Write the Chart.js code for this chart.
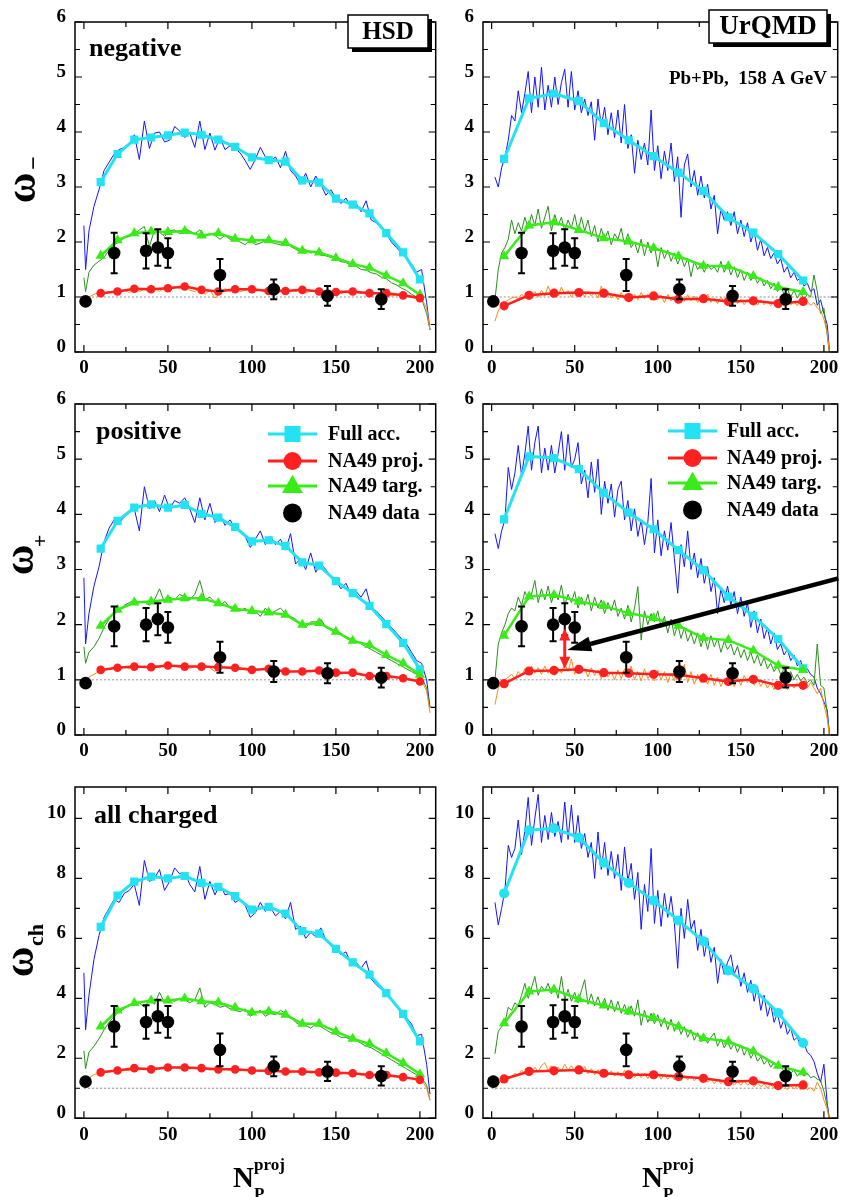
<!DOCTYPE html>
<html>
<head>
<meta charset="utf-8">
<script src="https://cdn.jsdelivr.net/npm/chart.js@4/dist/chart.umd.min.js"></script>
<style>
  html, body { margin: 0; padding: 0; background: #fff; }
  #page { position: relative; width: 844px; height: 1197px; overflow: hidden; background: #fff; }
  #page canvas { position: absolute; }
</style>
</head>
<body>
<div id="page"></div>
<script>
// ---- x grids (N_P^proj) ----
const hsdGrid = [0,1,3,6,9,12,15,18,21,24,27,30,33,36,39,42,45,48,51,54,57,60,63,66,69,72,75,78,81,84,
  87,90,93,96,99,102,105,108,111,114,117,120,123,126,129,132,135,138,141,144,147,150,153,156,159,162,165,168,171,174,
  177,180,183,186,189,192,195,198,201,204,206];
const urqGrid = [2,4,6,8,10,12,14,16,18,20, 22,24,26,28,30,32,34,36,38,40, 42,44,46,48,50,52,54,56,58,60,
  62,64,66,68,70,72,74,76,78,80, 82,84,86,88,90,92,94,96,98,100, 102,104,106,108,110,112,114,116,118,120,
  122,124,126,128,130,132,134,136,138,140, 142,144,146,148,150,152,154,156,158,160, 162,164,166,168,170,172,174,176,178,180,
  182,184,186,188,190,192,194,196,198,200, 202,204];
const hsdBins = [10,20,30,40,50,60,70,80,90,100,110,120,130,140,150,160,170,180,190,200];
const urqBins = [7.5,22.5,37.5,52.5,67.5,82.5,97.5,112.5,127.5,142.5,157.5,172.5,187.5];

const npTicks = [0,50,100,150,200];
const npMinor = [25,75,125,175];
const omegaTicks = [0,1,2,3,4,5,6];
const omegaMinor = [0.5,1.5,2.5,3.5,4.5,5.5];
const omegaChTicks = [0,2,4,6,8,10];
const omegaChMinor = [1,3,5,7,9];

// ---- NA49 data ----
const na49Np = [1,18,37,44,50,81,113,145,177];
const na49NegY = [0.92,1.80,1.84,1.90,1.80,1.40,1.14,1.02,0.96];
const na49NegErr = [0.05,0.37,0.32,0.33,0.27,0.29,0.18,0.18,0.18];
const na49PosY = [0.94,1.97,2.00,2.10,1.95,1.41,1.15,1.12,1.04];
const na49PosErr = [0.05,0.36,0.30,0.29,0.28,0.28,0.19,0.18,0.18];
const na49ChY = [1.22,3.06,3.21,3.40,3.21,2.28,1.73,1.56,1.41];
const na49ChErr = [0.1,0.68,0.56,0.55,0.53,0.55,0.33,0.32,0.32];

// ---- HSD negative ----
const hsdNegFullRaw = [2.30,1.50,2.20,2.65,2.95,3.30,3.45,3.60,3.68,3.72,
  3.78,3.95,3.50,4.20,3.70,3.98,4.00,3.82,3.85,4.10,
  4.02,3.90,3.98,3.72,4.20,3.68,3.98,3.67,3.90,3.68,
  3.75,3.70,3.62,3.48,3.32,3.50,3.72,3.55,3.45,3.55,
  3.35,3.65,3.30,3.20,3.05,3.25,3.00,3.20,3.05,2.85,
  2.95,2.80,2.70,2.80,2.62,2.70,2.55,2.75,2.40,2.35,
  2.25,2.15,2.00,1.90,1.80,1.70,1.60,1.45,1.50,0.90,0.40];
const hsdNegTargRaw = [1.35,1.10,1.45,1.58,1.65,1.72,1.85,1.95,2.00,2.08,
  2.10,2.14,2.22,2.28,1.92,2.22,2.18,2.10,2.20,2.22,
  2.15,2.25,2.20,2.15,2.22,2.10,2.15,2.12,2.05,2.12,
  2.05,2.05,2.00,1.95,2.05,1.95,1.98,2.02,2.00,1.97,
  1.95,2.05,1.92,1.87,1.82,1.86,1.80,1.82,1.76,1.75,
  1.72,1.70,1.64,1.63,1.57,1.56,1.50,1.49,1.44,1.42,
  1.36,1.33,1.26,1.22,1.16,1.12,1.05,1.00,0.97,0.70,0.40];
const hsdNegProjRaw = [0.95,0.90,1.00,1.05,1.08,1.06,1.10,1.08,1.10,1.12,
  1.08,1.15,1.10,1.14,1.08,1.16,1.10,1.18,1.12,1.20,
  1.15,1.22,1.12,1.10,1.15,1.05,1.12,0.98,1.10,1.15,
  1.10,1.16,1.10,1.12,1.15,1.10,1.14,1.08,1.12,1.10,
  1.13,1.08,1.12,1.10,1.14,1.08,1.10,1.12,1.06,1.10,
  1.08,1.10,1.06,1.09,1.05,1.08,1.06,1.10,1.04,1.07,
  1.03,1.06,1.02,1.04,1.00,1.02,0.99,0.98,0.97,0.80,0.40];
const hsdNegFull = [3.09,3.60,3.86,3.90,3.94,3.99,3.95,3.86,3.73,3.54,3.49,3.46,3.12,3.08,2.79,2.68,2.52,2.16,1.81,1.32];
const hsdNegTarg = [1.75,2.03,2.16,2.19,2.18,2.20,2.12,2.16,2.06,2.03,2.03,1.98,1.84,1.81,1.71,1.60,1.53,1.39,1.25,1.04];
const hsdNegProj = [1.07,1.10,1.15,1.14,1.16,1.19,1.13,1.10,1.14,1.14,1.11,1.11,1.13,1.10,1.09,1.10,1.07,1.07,1.03,0.98];

// ---- HSD positive ----
const hsdPosFullRaw = [2.85,1.65,2.20,2.70,3.05,3.50,3.75,3.90,3.85,3.95,
  4.05,4.10,3.70,4.50,4.10,4.25,4.05,4.35,4.10,4.25,
  4.20,4.30,4.10,3.85,4.30,3.90,4.20,3.85,4.00,3.80,
  3.90,3.75,3.70,3.60,3.40,3.55,3.70,3.45,3.60,3.45,
  3.55,3.35,3.65,3.10,3.20,3.00,3.30,2.95,3.10,3.00,
  2.85,2.80,2.65,2.75,2.55,2.60,2.50,2.65,2.30,2.25,
  2.15,2.05,1.95,1.85,1.75,1.65,1.50,1.35,1.30,1.00,0.50];
const hsdPosTargRaw = [1.60,1.30,1.50,1.60,1.75,1.95,2.10,2.20,2.25,2.35,
  2.40,2.45,2.40,2.42,2.35,2.45,2.65,2.40,2.50,2.45,
  2.55,2.50,2.45,2.55,2.80,2.45,2.50,2.40,2.35,2.42,
  2.30,2.32,2.25,2.30,2.20,2.25,2.15,2.30,2.20,2.25,
  2.30,2.20,2.15,2.10,2.00,1.95,2.05,2.05,2.10,1.95,
  1.90,1.85,1.85,1.75,1.72,1.70,1.65,1.60,1.55,1.50,
  1.45,1.40,1.35,1.30,1.25,1.20,1.15,1.10,1.05,0.85,0.50];
const hsdPosProjRaw = [0.97,0.95,1.05,1.10,1.15,1.18,1.20,1.22,1.20,1.24,
  1.20,1.26,1.22,1.25,1.20,1.27,1.22,1.28,1.24,1.26,
  1.22,1.28,1.20,1.25,1.18,1.26,1.22,1.15,1.25,1.22,
  1.20,1.24,1.18,1.22,1.16,1.20,1.18,1.22,1.16,1.19,
  1.15,1.18,1.14,1.17,1.13,1.16,1.14,1.17,1.12,1.15,
  1.12,1.14,1.10,1.13,1.09,1.12,1.08,1.10,1.06,1.08,
  1.05,1.07,1.03,1.05,1.02,1.03,1.00,1.00,0.98,0.80,0.40];
const hsdPosFull = [3.38,3.88,4.12,4.18,4.12,4.17,4.01,3.94,3.77,3.51,3.53,3.43,3.13,3.07,2.79,2.57,2.34,2.01,1.67,1.19];
const hsdPosTarg = [1.98,2.27,2.40,2.42,2.45,2.48,2.48,2.39,2.29,2.25,2.22,2.18,2.00,2.03,1.87,1.71,1.63,1.45,1.30,1.09];
const hsdPosProj = [1.18,1.22,1.24,1.23,1.26,1.24,1.24,1.23,1.22,1.18,1.20,1.15,1.15,1.17,1.13,1.13,1.07,1.07,1.03,0.97];

// ---- HSD all charged ----
const hsdChFullRaw = [4.85,2.95,4.10,5.30,6.10,6.70,7.00,7.30,7.20,7.50,
  7.60,7.80,7.10,8.60,7.90,8.00,8.30,7.60,7.90,8.35,
  8.15,8.20,7.80,7.55,8.40,7.30,7.90,7.45,7.80,7.45,
  7.50,7.20,7.30,7.10,6.70,6.85,7.20,6.90,7.05,6.75,
  6.90,6.65,7.20,6.30,6.40,6.00,6.20,6.05,6.35,5.95,
  5.75,5.70,5.45,5.55,5.15,5.20,5.00,5.25,4.65,4.45,
  4.30,4.10,3.95,3.75,3.55,3.35,3.15,2.75,2.80,1.80,0.80];
const hsdChTargRaw = [2.25,1.65,2.20,2.40,2.65,2.95,3.20,3.40,3.55,3.65,
  3.80,3.75,3.85,3.70,3.95,3.80,4.20,3.85,3.95,3.90,
  4.00,3.95,3.85,3.95,4.35,3.70,3.85,3.80,3.70,3.75,
  3.65,3.60,3.55,3.65,3.40,3.50,3.60,3.40,3.50,3.45,
  3.60,3.50,3.40,3.20,3.10,3.10,3.00,3.15,3.05,2.95,
  2.85,2.80,2.70,2.70,2.60,2.60,2.50,2.40,2.35,2.25,
  2.15,2.05,1.95,1.85,1.75,1.65,1.55,1.45,1.35,1.10,0.60];
const hsdChProjRaw = [1.20,1.15,1.35,1.45,1.50,1.52,1.55,1.58,1.56,1.60,
  1.58,1.65,1.60,1.68,1.62,1.70,1.64,1.72,1.66,1.70,
  1.65,1.72,1.64,1.68,1.62,1.66,1.60,1.64,1.60,1.65,
  1.58,1.62,1.58,1.62,1.56,1.60,1.56,1.60,1.55,1.58,
  1.54,1.58,1.52,1.56,1.52,1.55,1.50,1.54,1.50,1.52,
  1.49,1.52,1.47,1.50,1.45,1.48,1.44,1.46,1.42,1.44,
  1.40,1.42,1.38,1.38,1.35,1.34,1.32,1.30,1.28,1.00,0.60];
const hsdChFull = [6.38,7.43,7.89,8.06,8.00,8.08,7.85,7.72,7.41,6.96,7.05,6.83,6.24,6.16,5.65,5.20,4.79,4.17,3.48,2.56];
const hsdChTarg = [3.06,3.59,3.84,3.93,3.93,3.99,3.90,3.86,3.69,3.53,3.56,3.45,3.15,3.15,2.89,2.65,2.48,2.17,1.84,1.47];
const hsdChProj = [1.53,1.59,1.67,1.63,1.69,1.69,1.67,1.63,1.63,1.59,1.58,1.56,1.56,1.53,1.52,1.50,1.44,1.44,1.37,1.28];

// ---- UrQMD negative ----
const urqNegFullRaw = [3.18,3.00,3.35,3.55,3.85,4.30,4.20,4.75,4.35,4.70,
  5.10,4.35,5.00,4.45,5.18,4.40,4.85,4.45,5.00,4.50,
  4.90,5.14,4.45,5.10,4.40,4.75,4.35,4.60,4.30,4.55,
  3.85,4.60,4.10,4.45,3.95,4.35,3.90,4.40,3.80,4.50,
  3.70,3.95,3.25,3.85,3.50,3.80,3.40,4.40,3.30,3.75,
  3.15,3.65,3.30,3.80,3.10,3.55,2.45,3.40,3.60,3.00,
  3.30,2.85,3.20,2.80,3.05,2.60,2.85,2.15,2.60,2.40,
  2.55,2.30,2.55,2.15,2.40,2.10,2.35,2.00,2.20,1.85,
  2.05,1.75,1.90,1.70,1.80,1.60,1.70,1.45,1.55,1.35,
  1.45,1.30,1.35,1.20,1.25,1.10,1.15,0.85,0.95,0.70,
  0.50,-0.20];
const urqNegTargRaw = [0.95,1.50,1.80,1.90,2.05,2.40,2.15,2.35,2.20,2.45,
  2.25,2.50,2.30,2.60,2.25,2.45,2.65,2.20,2.50,2.30,
  2.45,2.20,2.40,2.25,2.50,2.20,2.45,2.20,2.40,2.10,
  2.30,2.00,2.25,2.05,2.20,1.95,2.15,2.05,2.25,1.95,
  2.15,1.90,2.00,1.80,2.05,1.75,2.00,1.80,1.95,1.55,
  1.90,1.70,1.85,1.65,1.80,1.60,1.75,1.55,1.70,1.37,
  1.65,1.50,1.60,1.45,1.60,1.50,1.55,1.45,1.65,1.45,
  1.60,1.40,1.55,1.35,1.50,1.30,1.45,1.30,1.40,1.25,
  1.35,1.20,1.30,1.15,1.25,1.10,1.20,1.05,1.15,1.00,
  1.12,0.98,1.08,0.95,1.05,1.00,1.40,1.10,0.70,0.80,
  0.30,-0.20];
const urqNegProjRaw = [0.56,0.75,0.85,0.90,0.95,0.98,1.00,0.97,1.05,1.00,
  1.08,1.02,1.10,1.00,1.12,1.02,1.20,1.05,1.15,1.02,
  1.18,1.05,1.12,1.00,1.10,1.02,1.12,1.00,1.10,1.02,
  1.08,0.98,1.20,1.00,1.10,0.98,1.06,0.95,1.08,0.96,
  1.05,0.93,1.05,0.95,1.08,0.97,1.05,0.94,1.06,0.95,
  1.03,0.90,1.05,0.93,1.02,0.88,1.00,0.92,1.04,0.93,
  1.02,0.90,1.00,0.92,1.05,0.90,0.98,0.88,1.00,0.90,
  0.97,0.87,0.98,0.88,0.96,0.86,0.95,0.88,0.97,0.85,
  0.95,0.86,0.93,0.84,0.92,0.85,0.94,0.83,0.93,0.85,
  0.92,0.84,0.95,0.86,0.92,0.85,0.90,0.80,0.75,0.60,
  0.35,-0.20];
const urqNegFull = [3.51,4.61,4.70,4.56,4.16,3.85,3.56,3.26,2.93,2.45,2.17,1.78,1.30];
const urqNegTarg = [1.74,2.30,2.36,2.22,2.07,2.01,1.89,1.74,1.57,1.56,1.38,1.18,1.09];
const urqNegProj = [0.84,1.03,1.07,1.08,1.07,0.99,1.02,0.96,0.97,0.92,0.93,0.88,0.92];

// ---- UrQMD positive ----
const urqPosFullRaw = [3.65,3.38,3.70,3.90,4.85,4.45,4.75,5.25,4.70,5.10,
  5.60,4.80,5.30,5.60,4.75,5.20,4.80,5.25,4.75,5.10,
  5.50,4.80,5.45,4.85,5.00,5.30,4.55,4.80,4.30,4.95,
  4.40,5.00,4.00,4.60,4.20,4.55,3.95,4.45,4.60,3.90,
  4.25,3.70,4.10,3.60,3.90,3.45,3.85,4.65,3.30,3.90,
  3.25,3.70,3.35,3.85,3.20,2.57,3.45,3.05,3.70,3.00,
  3.30,2.85,3.20,2.75,3.05,2.60,2.85,2.20,2.65,2.40,
  2.70,2.35,2.60,2.20,2.50,2.15,2.40,1.95,2.25,1.85,
  2.10,1.75,1.95,1.65,1.85,1.55,1.65,1.45,1.55,1.35,
  1.45,1.25,1.35,1.15,1.20,1.10,1.05,0.85,0.75,0.60,
  0.45,-0.20];
const urqPosTargRaw = [1.00,1.65,1.85,2.00,2.20,2.30,2.25,2.50,2.35,2.60,
  2.45,2.55,2.80,2.40,2.65,2.45,2.70,2.40,2.60,2.45,
  2.72,2.35,2.55,2.40,2.60,2.30,2.50,2.35,2.55,2.25,
  2.50,2.30,2.45,2.20,2.40,2.25,2.45,2.15,2.30,2.10,
  2.35,2.05,2.30,2.69,1.72,2.25,2.00,2.20,2.05,2.25,
  1.95,2.15,1.85,2.10,1.80,2.00,1.75,1.95,1.70,1.85,
  1.65,1.85,1.60,1.80,1.55,1.80,1.60,1.75,1.50,1.70,
  1.55,1.65,1.45,1.60,1.40,1.55,1.35,1.50,1.30,1.45,
  1.25,1.40,1.20,1.30,1.15,1.25,1.10,1.20,1.05,1.15,
  1.00,1.10,0.98,1.05,0.95,1.00,0.90,1.65,0.90,0.85,
  0.40,-0.20];
const urqPosProjRaw = [0.55,0.85,0.95,1.00,1.05,1.10,1.02,1.15,1.08,1.20,
  1.10,1.25,1.12,1.22,1.10,1.25,1.12,1.20,1.08,1.22,
  1.12,1.30,1.15,1.38,1.10,1.25,1.12,1.20,1.05,1.22,
  1.08,1.18,1.02,1.20,1.05,1.15,1.00,1.18,1.02,1.20,
  1.05,1.25,1.00,1.15,0.98,1.20,1.02,1.12,0.98,1.18,
  1.00,1.15,0.95,1.12,0.98,1.25,1.00,1.28,0.95,1.15,
  0.92,1.10,0.95,1.05,0.92,1.10,0.90,1.05,0.88,1.02,
  0.90,1.00,0.88,1.05,0.90,1.08,0.95,1.05,0.90,1.02,
  0.88,0.98,0.85,0.95,0.82,0.95,0.85,0.92,0.82,0.92,
  0.85,0.95,0.88,0.92,0.85,0.95,0.85,0.75,0.85,0.55,
  0.30,-0.20];
const urqPosFull = [3.91,5.05,5.02,4.82,4.39,4.03,3.73,3.35,2.99,2.51,2.16,1.74,1.21];
const urqPosTarg = [1.80,2.51,2.54,2.42,2.34,2.21,2.12,1.98,1.76,1.72,1.53,1.26,1.18];
const urqPosProj = [0.93,1.16,1.17,1.19,1.13,1.12,1.10,1.09,1.03,0.97,1.01,0.90,0.90];

// ---- UrQMD all charged ----
const urqChFullRaw = [7.20,6.45,7.00,7.60,9.10,8.70,9.00,9.95,8.80,9.60,
  10.70,9.10,10.00,10.80,9.20,10.10,9.30,10.20,9.40,9.90,
  9.20,10.55,9.30,10.45,9.20,10.10,9.00,9.50,8.70,9.20,
  8.00,9.55,8.30,9.20,8.10,8.90,8.00,8.80,7.60,9.05,
  7.90,8.50,7.30,8.20,6.30,7.80,6.90,9.00,6.50,7.60,
  6.40,7.50,6.70,7.40,6.50,5.00,7.00,6.00,7.30,6.30,
  6.60,5.60,6.30,5.40,6.00,5.20,5.70,4.50,5.30,4.80,
  5.20,5.45,4.80,5.10,4.40,4.85,4.20,4.60,3.90,4.40,
  3.60,4.10,3.40,3.80,3.20,3.50,3.00,3.30,2.80,3.00,
  2.60,2.70,2.40,2.50,2.20,2.10,1.90,1.50,1.20,1.80,
  0.50,-0.30];
const urqChTargRaw = [2.15,2.90,3.05,3.20,3.70,3.60,3.85,3.75,4.10,4.50,
  4.00,4.35,4.73,4.10,4.40,4.25,4.50,4.15,4.40,4.00,
  4.73,3.95,4.30,3.90,4.20,3.85,4.25,4.62,3.80,4.15,
  3.75,4.05,3.70,4.00,3.60,3.95,3.55,3.90,3.50,3.80,
  3.45,3.75,3.40,3.95,3.10,3.60,3.20,3.50,3.15,3.45,
  3.05,3.35,2.95,3.30,2.90,3.15,2.80,3.05,2.70,2.95,
  2.60,2.85,2.55,2.75,2.50,2.70,2.84,2.40,2.65,2.35,
  2.55,2.30,2.50,2.20,2.45,2.10,2.35,2.00,2.20,1.90,
  2.05,1.80,1.95,1.70,1.85,1.65,1.75,1.55,1.70,1.50,
  1.60,1.40,1.55,1.40,1.50,1.35,1.40,1.30,1.25,0.90,
  0.40,-0.30];
const urqChProjRaw = [0.95,1.15,1.25,1.30,1.40,1.35,1.50,1.42,1.60,1.50,
  1.65,1.52,1.70,1.55,1.75,1.85,1.60,1.75,1.55,1.70,
  1.58,1.80,1.60,1.75,1.55,1.70,1.50,1.72,1.48,1.65,
  1.45,1.62,1.45,1.60,1.42,1.58,1.40,1.55,1.40,1.60,
  1.38,1.55,1.35,1.52,1.35,1.50,1.32,1.55,1.35,1.50,
  1.30,1.48,1.30,1.45,1.28,1.45,1.25,1.42,1.28,1.40,
  1.25,1.38,1.20,1.35,1.20,1.32,1.15,1.30,1.15,1.28,
  1.12,1.25,1.10,1.22,1.10,1.25,1.10,1.20,1.05,1.18,
  1.05,1.15,1.00,1.12,1.00,1.10,0.98,1.08,0.95,1.10,
  0.98,1.08,0.95,1.05,0.95,1.02,0.90,1.20,1.00,0.60,
  0.30,-0.30];
const urqChFull = [7.50,9.61,9.67,9.36,8.52,7.85,7.26,6.60,5.90,4.93,4.32,3.51,2.51];
const urqChTarg = [3.17,4.23,4.29,3.97,3.76,3.56,3.34,3.06,2.67,2.56,2.23,1.75,1.53];
const urqChProj = [1.31,1.56,1.58,1.61,1.50,1.45,1.45,1.39,1.33,1.22,1.25,1.09,1.11];

// arrows in the UrQMD positive panel (data coords)
const gapArrow = [44, 1.2, 1.93];        // x, y low, y high
const pointerTail = [208.7, 2.84];
const pointerTip = [45.5, 1.54];

// colours
const cBlue = '#1414ff', cCyan = '#22e2f4', cDarkGreen = '#2b8f1c', cGreen = '#38ec17', cRed = '#ff2020', cOrange = '#ff8c14';
const serif = '"Liberation Serif", "Times New Roman", serif';

// page layout (pixels)
const colLeft = [0, 442], colWidth = [442, 402];
const rowTop = [0, 382, 766], rowHeight = [382, 384, 431];
const plotLeft = [75, 483], plotRight = [437, 843];
const plotTop = [22, 404, 787], plotBottom = [352, 735, 1118.2];
const xRange = [[-5.3, 209.4], [-5.2, 208.3]];

const legendItems = [
  { label: 'Full acc.', color: cCyan, marker: 'rect', size: 16, line: true },
  { label: 'NA49 proj.', color: cRed, marker: 'circle', size: 18, line: true },
  { label: 'NA49 targ.', color: cGreen, marker: 'triangle', size: 21, line: true },
  { label: 'NA49 data', color: '#000', marker: 'circle', size: 19, line: false }
];

const panels = [
  { id: 'hsdNeg', col: 0, row: 0, grid: hsdGrid, raw: [hsdNegFullRaw, hsdNegTargRaw, hsdNegProjRaw],
    bins: hsdBins, full: hsdNegFull, targ: hsdNegTarg, proj: hsdNegProj, fullMarker: 'rect',
    dataY: na49NegY, dataErr: na49NegErr, yMax: 6, yTicks: omegaTicks, yMinor: omegaMinor,
    label: { text: 'negative', x: 89, y: 56 },
    box: { text: 'HSD', x: 348, y: 15, w: 80, h: 33, size: 25 },
    yTitle: { sub: '\u2212', x: 35, y: 188, subDx: 25, subDy: 6, subSize: 24 } },
  { id: 'urqNeg', col: 1, row: 0, grid: urqGrid, raw: [urqNegFullRaw, urqNegTargRaw, urqNegProjRaw],
    bins: urqBins, full: urqNegFull, targ: urqNegTarg, proj: urqNegProj, fullMarker: 'rect',
    dataY: na49NegY, dataErr: na49NegErr, yMax: 6, yTicks: omegaTicks, yMinor: omegaMinor,
    box: { text: 'UrQMD', x: 709, y: 10, w: 118, h: 33, size: 27 },
    note: { text: 'Pb+Pb,  158 A GeV', x: 827, y: 84, size: 19 } },
  { id: 'hsdPos', col: 0, row: 1, grid: hsdGrid, raw: [hsdPosFullRaw, hsdPosTargRaw, hsdPosProjRaw],
    bins: hsdBins, full: hsdPosFull, targ: hsdPosTarg, proj: hsdPosProj, fullMarker: 'rect',
    dataY: na49PosY, dataErr: na49PosErr, yMax: 6, yTicks: omegaTicks, yMinor: omegaMinor,
    label: { text: 'positive', x: 96, y: 439 },
    legend: { x0: 268, x1: 317, tx: 328, rows: [434, 461, 486, 513] },
    yTitle: { sub: '+', x: 33, y: 560, subDx: 19, subDy: 14, subSize: 22 } },
  { id: 'urqPos', col: 1, row: 1, grid: urqGrid, raw: [urqPosFullRaw, urqPosTargRaw, urqPosProjRaw],
    bins: urqBins, full: urqPosFull, targ: urqPosTarg, proj: urqPosProj, fullMarker: 'rect',
    dataY: na49PosY, dataErr: na49PosErr, yMax: 6, yTicks: omegaTicks, yMinor: omegaMinor,
    legend: { x0: 668, x1: 717, tx: 727, rows: [431, 458, 483, 510] }, arrows: true },
  { id: 'hsdCh', col: 0, row: 2, grid: hsdGrid, raw: [hsdChFullRaw, hsdChTargRaw, hsdChProjRaw],
    bins: hsdBins, full: hsdChFull, targ: hsdChTarg, proj: hsdChProj, fullMarker: 'rect',
    dataY: na49ChY, dataErr: na49ChErr, yMax: 11.05, yTicks: omegaChTicks, yMinor: omegaChMinor,
    label: { text: 'all charged', x: 94, y: 823 },
    yTitle: { sub: 'ch', x: 33, y: 962, subDx: 27, subDy: 10, subSize: 22 },
    xTitle: { x: 233, y: 1187 } },
  { id: 'urqCh', col: 1, row: 2, grid: urqGrid, raw: [urqChFullRaw, urqChTargRaw, urqChProjRaw],
    bins: urqBins, full: urqChFull, targ: urqChTarg, proj: urqChProj, fullMarker: 'circle',
    dataY: na49ChY, dataErr: na49ChErr, yMax: 11.05, yTicks: omegaChTicks, yMinor: omegaChMinor,
    xTitle: { x: 642, y: 1187 } }
];
const panelById = {};
panels.forEach(p => { panelById[p.id] = p; });

function pts(xs, ys) { return xs.map((x, i) => ({ x, y: ys[i] })); }

function txt(ctx, s, x, y, size, align, base) {
  ctx.font = `bold ${size}px ${serif}`;
  ctx.textAlign = align || 'left';
  ctx.textBaseline = base || 'alphabetic';
  ctx.fillStyle = '#000';
  ctx.fillText(s, x, y);
}

function marker(ctx, kind, x, y, size, color) {
  ctx.fillStyle = color;
  ctx.beginPath();
  if (kind === 'rect') ctx.rect(x - size / 2, y - size / 2, size, size);
  else if (kind === 'triangle') {
    const h = size * 0.87;
    ctx.moveTo(x, y - h * 0.62);
    ctx.lineTo(x + size / 2, y + h * 0.38);
    ctx.lineTo(x - size / 2, y + h * 0.38);
    ctx.closePath();
  } else ctx.arc(x, y, size / 2, 0, Math.PI * 2);
  ctx.fill();
}

function arrowHead(ctx, tx, ty, fx, fy, len, half) {
  const a = Math.atan2(ty - fy, tx - fx);
  const bx = tx - len * Math.cos(a), by = ty - len * Math.sin(a);
  ctx.beginPath();
  ctx.moveTo(tx, ty);
  ctx.lineTo(bx + half * Math.sin(a), by - half * Math.cos(a));
  ctx.lineTo(bx - half * Math.sin(a), by + half * Math.cos(a));
  ctx.closePath();
  ctx.fill();
}

const panelDeco = {
  id: 'panelDeco',
  beforeDatasetsDraw(chart) {
    const { ctx, chartArea: a } = chart;
    const xs = chart.scales.x, ys = chart.scales.y;
    const y1 = ys.getPixelForValue(1);
    ctx.save();
    ctx.strokeStyle = '#8c8c8c';
    ctx.lineWidth = 1;
    ctx.setLineDash([2, 2]);
    ctx.beginPath();
    ctx.moveTo(xs.getPixelForValue(0), y1);
    ctx.lineTo(a.right, y1);
    ctx.stroke();
    ctx.restore();
  },
  afterDatasetsDraw(chart) {
    const p = panelById[chart.canvas.id];
    const { ctx } = chart;
    const xs = chart.scales.x, ys = chart.scales.y;
    ctx.save();
    // error bars on the NA49 points
    chart.data.datasets.forEach((ds, i) => {
      if (!ds.errors) return;
      const meta = chart.getDatasetMeta(i);
      meta.data.forEach((el, j) => {
        const v = ds.data[j];
        const top = ys.getPixelForValue(v.y + ds.errors[j]);
        const bot = ys.getPixelForValue(v.y - ds.errors[j]);
        ctx.strokeStyle = '#000';
        ctx.lineWidth = 2;
        ctx.beginPath();
        ctx.moveTo(el.x, top); ctx.lineTo(el.x, bot);
        ctx.moveTo(el.x - 3.5, top); ctx.lineTo(el.x + 3.5, top);
        ctx.moveTo(el.x - 3.5, bot); ctx.lineTo(el.x + 3.5, bot);
        ctx.stroke();
      });
    });
    if (p.arrows) {
      // red double arrow between proj. curve and the data point
      const ax = xs.getPixelForValue(gapArrow[0]);
      const lo = ys.getPixelForValue(gapArrow[1]);
      const hi = ys.getPixelForValue(gapArrow[2]);
      ctx.strokeStyle = cRed; ctx.fillStyle = cRed; ctx.lineWidth = 3;
      ctx.beginPath(); ctx.moveTo(ax, hi + 10); ctx.lineTo(ax, lo - 10); ctx.stroke();
      arrowHead(ctx, ax, hi, ax, lo, 12, 5.5);
      arrowHead(ctx, ax, lo, ax, hi, 12, 5.5);
      // black pointer
      const tx = xs.getPixelForValue(pointerTip[0]), ty = ys.getPixelForValue(pointerTip[1]);
      const fx = xs.getPixelForValue(pointerTail[0]), fy = ys.getPixelForValue(pointerTail[1]);
      const ang = Math.atan2(ty - fy, tx - fx);
      ctx.strokeStyle = '#000'; ctx.fillStyle = '#000'; ctx.lineWidth = 4.5;
      ctx.beginPath(); ctx.moveTo(fx, fy); ctx.lineTo(tx - 14 * Math.cos(ang), ty - 14 * Math.sin(ang)); ctx.stroke();
      arrowHead(ctx, tx, ty, fx, fy, 24, 7.5);
    }
    ctx.restore();
  },
  afterDraw(chart) {
    const p = panelById[chart.canvas.id];
    const { ctx, chartArea: a } = chart;
    const xs = chart.scales.x, ys = chart.scales.y;
    const ox = colLeft[p.col], oy = rowTop[p.row];
    ctx.save();
    // frame with inward ticks on all four sides
    ctx.strokeStyle = '#000';
    ctx.lineWidth = 1.5;
    ctx.strokeRect(a.left, a.top, a.right - a.left, a.bottom - a.top);
    ctx.lineWidth = 1.2;
    ctx.beginPath();
    const xt = (v, len) => {
      const px = xs.getPixelForValue(v);
      ctx.moveTo(px, a.bottom); ctx.lineTo(px, a.bottom - len);
      ctx.moveTo(px, a.top); ctx.lineTo(px, a.top + len);
    };
    const yt = (v, len) => {
      const py = ys.getPixelForValue(v);
      ctx.moveTo(a.left, py); ctx.lineTo(a.left + len, py);
      ctx.moveTo(a.right, py); ctx.lineTo(a.right - len, py);
    };
    npTicks.forEach(v => xt(v, 7));
    npMinor.forEach(v => xt(v, 5));
    p.yTicks.forEach(v => yt(v, 7));
    p.yMinor.forEach(v => yt(v, 5));
    ctx.stroke();

    if (p.label) txt(ctx, p.label.text, p.label.x - ox, p.label.y - oy, 26);
    if (p.box) {
      const b = p.box, bx = b.x - ox, by = b.y - oy;
      ctx.fillStyle = '#000';
      ctx.fillRect(bx + 4, by + 4, b.w, b.h);
      ctx.fillStyle = '#fff';
      ctx.fillRect(bx, by, b.w, b.h);
      ctx.lineWidth = 1.5;
      ctx.strokeRect(bx, by, b.w, b.h);
      txt(ctx, b.text, bx + b.w / 2, by + b.h / 2 + 1, b.size, 'center', 'middle');
    }
    if (p.note) txt(ctx, p.note.text, p.note.x - ox, p.note.y - oy, p.note.size, 'right');
    if (p.legend) {
      const L = p.legend;
      legendItems.forEach((it, i) => {
        const ry = L.rows[i] - oy;
        if (it.line) {
          ctx.strokeStyle = it.color; ctx.lineWidth = 3;
          ctx.beginPath(); ctx.moveTo(L.x0 - ox, ry); ctx.lineTo(L.x1 - ox, ry); ctx.stroke();
        }
        marker(ctx, it.marker, (L.x0 + L.x1) / 2 - ox, ry, it.size, it.color);
        txt(ctx, it.label, L.tx - ox, ry + 1, 20, 'left', 'middle');
      });
    }
    if (p.yTitle) {
      const t = p.yTitle;
      ctx.save();
      ctx.translate(t.x - ox, t.y - oy);
      ctx.rotate(-Math.PI / 2);
      txt(ctx, '\u03c9', 0, 0, 42, 'center');
      txt(ctx, t.sub, t.subDx, t.subDy, t.subSize, 'center');
      ctx.restore();
    }
    if (p.xTitle) {
      const t = p.xTitle, tx = t.x - ox, ty = t.y - oy;
      txt(ctx, 'N', tx, ty, 29);
      txt(ctx, 'proj', tx + 21, ty - 17, 17);
      txt(ctx, 'P', tx + 21, ty + 12, 17);
    }
    ctx.restore();
  }
};

const page = document.getElementById('page');
panels.forEach(p => {
  const c = p.col, r = p.row;
  const cv = document.createElement('canvas');
  cv.id = p.id;
  cv.width = colWidth[c];
  cv.height = rowHeight[r];
  cv.style.left = colLeft[c] + 'px';
  cv.style.top = rowTop[r] + 'px';
  page.appendChild(cv);

  const urq = p.grid === urqGrid;
  const datasets = [
    { data: pts(p.grid, p.raw[0]), borderColor: cBlue, borderWidth: 1, pointRadius: 0, order: 9, clip: 0 },
    { data: pts(p.grid, p.raw[1]), borderColor: cDarkGreen, borderWidth: 1, pointRadius: 0, order: 8, clip: 0 },
    { data: pts(p.grid, p.raw[2]), borderColor: cOrange, borderWidth: 1, pointRadius: 0, order: 7, clip: 0 },
    { data: pts(p.bins, p.full), borderColor: cCyan, borderWidth: 3, pointStyle: p.fullMarker,
      pointRadius: p.fullMarker === 'rect' ? 5.8 : 5, pointBackgroundColor: cCyan, pointBorderWidth: 0, order: 3 },
    { data: pts(p.bins, p.targ), borderColor: cGreen, borderWidth: 2.5, pointStyle: 'triangle',
      pointRadius: 6, pointBackgroundColor: cGreen, pointBorderWidth: 0, order: 2 },
    { data: pts(p.bins, p.proj), borderColor: cRed, borderWidth: 2.5, pointStyle: 'circle',
      pointRadius: urq ? 4.6 : 4.3, pointBackgroundColor: cRed, pointBorderWidth: 0, order: 1 },
    { data: pts(na49Np, p.dataY), errors: p.dataErr, showLine: false, pointStyle: 'circle',
      pointRadius: 6.3, pointBackgroundColor: '#000', pointBorderWidth: 0, order: 0 }
  ];

  new Chart(cv, {
    type: 'line',
    data: { datasets },
    options: {
      responsive: false,
      animation: false,
      devicePixelRatio: 1,
      events: [],
      layout: { padding: { top: plotTop[r] - rowTop[r], right: colLeft[c] + colWidth[c] - plotRight[c], left: 0, bottom: 0 } },
      elements: { line: { tension: 0 } },
      plugins: { legend: { display: false }, tooltip: { enabled: false } },
      scales: {
        x: {
          type: 'linear', min: xRange[c][0], max: xRange[c][1],
          grid: { display: false, drawTicks: false }, border: { display: false },
          ticks: { font: { family: serif, size: 19, weight: 'bold' }, color: '#000', padding: 5, autoSkip: false, maxRotation: 0 },
          afterBuildTicks: s => { s.ticks = npTicks.map(v => ({ value: v })); },
          afterFit: s => { s.height = rowTop[r] + rowHeight[r] - plotBottom[r]; }
        },
        y: {
          type: 'linear', min: 0, max: p.yMax,
          grid: { display: false, drawTicks: false }, border: { display: false },
          ticks: { font: { family: serif, size: 19, weight: 'bold' }, color: '#000', padding: 9, labelOffset: -5, autoSkip: false },
          afterBuildTicks: s => { s.ticks = p.yTicks.map(v => ({ value: v })); },
          afterFit: s => { s.width = plotLeft[c] - colLeft[c]; }
        }
      }
    },
    plugins: [panelDeco]
  });
});
</script>
</body>
</html>
